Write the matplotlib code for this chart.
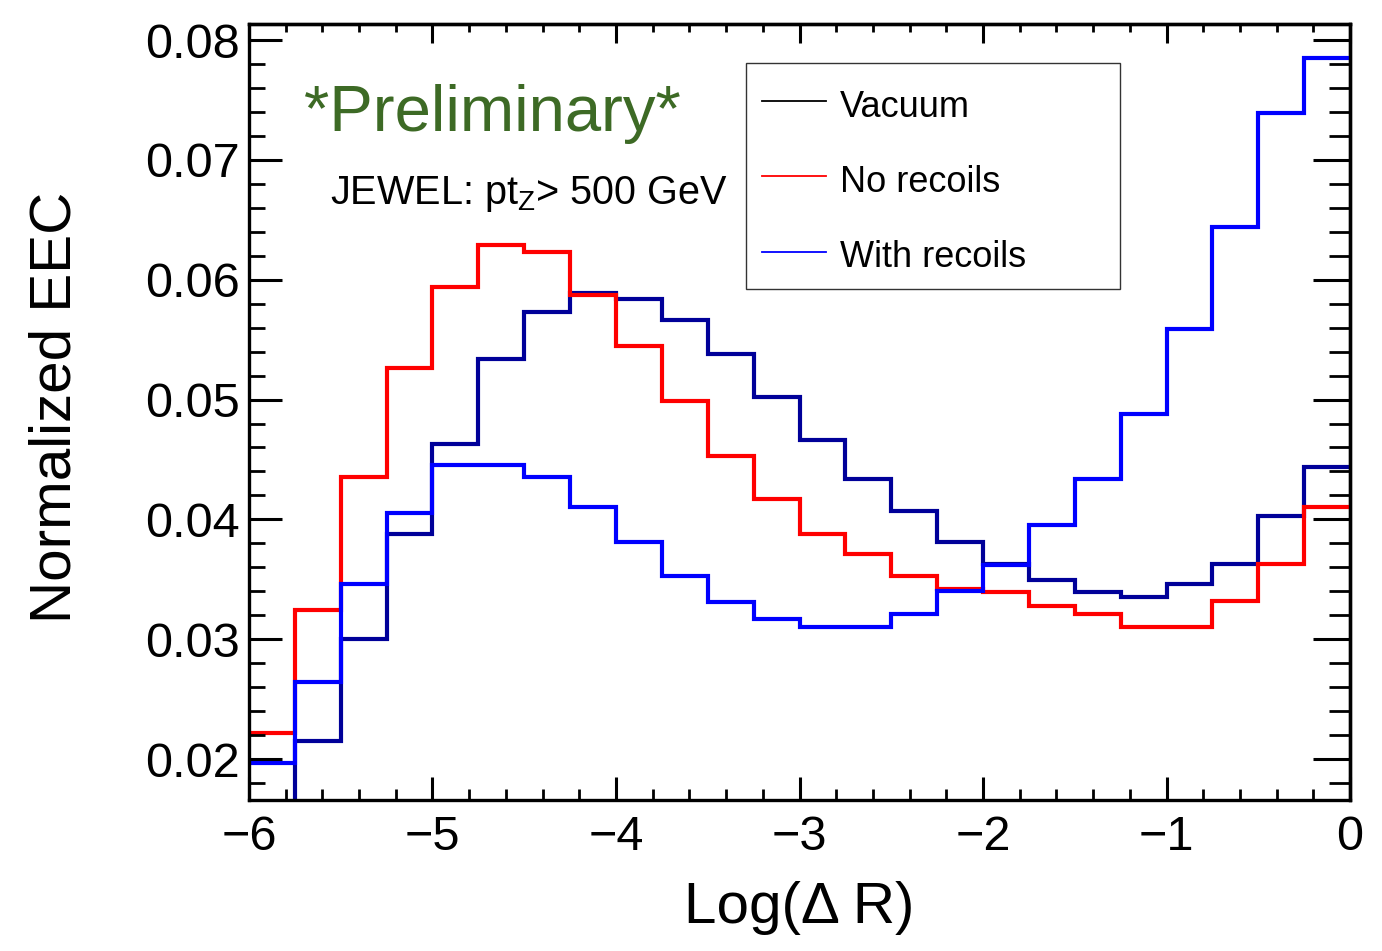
import numpy as np
import matplotlib
matplotlib.use("Agg")
import matplotlib.pyplot as plt
from matplotlib.ticker import MultipleLocator, FixedLocator
from matplotlib.patches import Rectangle
from matplotlib.lines import Line2D

plt.rcParams['font.family'] = ['Liberation Sans', 'DejaVu Sans']
plt.rcParams['mathtext.fontset'] = 'custom'
plt.rcParams['mathtext.rm'] = 'Liberation Sans'
plt.rcParams['mathtext.it'] = 'Liberation Sans:italic'
plt.rcParams['axes.unicode_minus'] = True

# Binning in Log(ΔR): 24 equal bins from -6 to 0
bin_edges = np.linspace(-6.0, 0.0, 25)

vacuum = [0.0160, 0.0215, 0.0300, 0.0388, 0.0463, 0.0534, 0.0573, 0.0589,
          0.0584, 0.0566, 0.0538, 0.0502, 0.0466, 0.0434, 0.0407, 0.0381,
          0.0363, 0.0349, 0.0339, 0.0335, 0.0346, 0.0363, 0.0403, 0.0444]

no_recoils = [0.0222, 0.0324, 0.0435, 0.0526, 0.0594, 0.0629, 0.0623, 0.0587,
              0.0545, 0.0499, 0.0453, 0.0417, 0.0388, 0.0371, 0.0353, 0.0342,
              0.0339, 0.0328, 0.0321, 0.0310, 0.0310, 0.0332, 0.0363, 0.0410]

with_recoils = [0.0197, 0.0264, 0.0346, 0.0405, 0.0445, 0.0445, 0.0435, 0.0410,
                0.0381, 0.0353, 0.0331, 0.0317, 0.0310, 0.0310, 0.0321, 0.0340,
                0.0362, 0.0395, 0.0434, 0.0488, 0.0559, 0.0644, 0.0739, 0.0785]

series_labels = ["Vacuum", "No recoils", "With recoils"]
series_colors = ["#000099", "#ff0000", "#0000ff"]
legend_colors = ["#000000", "#ff0000", "#0000ff"]

x_ticks = [-6, -5, -4, -3, -2, -1, 0]
y_ticks = [0.02, 0.03, 0.04, 0.05, 0.06, 0.07, 0.08]

fig = plt.figure(figsize=(13.82, 9.51), dpi=100)
ax = fig.add_axes([0.18017, 0.15878, 0.79668, 0.81598])

for vals, col in zip([vacuum, no_recoils, with_recoils], series_colors):
    ax.stairs(vals, bin_edges, baseline=None, color=col, linewidth=3.0)

ax.set_xlim(-6, 0)
ax.set_ylim(0.01658, 0.08134)

for s in ax.spines.values():
    s.set_linewidth(2.4)

ax.set_xticks(x_ticks)
ax.set_xticklabels([f"{t:d}".replace("-", "\u2212") for t in x_ticks])
ax.set_yticks(y_ticks)
ax.set_yticklabels([f"{t:.2f}" for t in y_ticks])
ax.xaxis.set_minor_locator(MultipleLocator(0.2))
ax.yaxis.set_minor_locator(MultipleLocator(0.002))

ax.tick_params(axis='x', which='major', direction='in', length=16.5, width=2.2,
               pad=10.5, labelsize=35)
ax.tick_params(axis='x', which='minor', direction='in', length=8, width=2.0)
ax.tick_params(axis='y', which='major', direction='in', length=24, width=2.2,
               pad=6.5, labelsize=35)
ax.tick_params(axis='y', which='minor', direction='in', length=11.5, width=2.0)

# Mirror ticks on top and right frame edges
top = ax.secondary_xaxis('top')
top.xaxis.set_major_locator(FixedLocator(x_ticks))
top.xaxis.set_minor_locator(MultipleLocator(0.2))
top.tick_params(which='major', direction='in', length=14, width=2.2, labeltop=False)
top.tick_params(which='minor', direction='in', length=5.5, width=2.0)
top.spines['top'].set_linewidth(2.4)

right = ax.secondary_yaxis('right')
right.yaxis.set_major_locator(FixedLocator(y_ticks))
right.yaxis.set_minor_locator(MultipleLocator(0.002))
right.tick_params(which='major', direction='in', length=27, width=2.2, labelright=False)
right.tick_params(which='minor', direction='in', length=15, width=2.0)
right.spines['right'].set_linewidth(2.4)

# Axis titles
fig.text(799 / 1382, 1 - 923 / 951, "Log(\u0394 R)", fontsize=42,
         ha='center', va='baseline')
fig.text(56 / 1382, 1 - 407 / 951, "Normalized EEC", fontsize=42,
         rotation=90, ha='center', va='center')

# Annotations
def ax_x(px):
    return (px - 249) / 1101.0

def ax_y(py):
    return (800 - py) / 776.0

ax.text(ax_x(304), ax_y(131), "*Preliminary*", fontsize=47, color="#3d6a25",
        ha='left', va='baseline', transform=ax.transAxes)
ax.text(ax_x(330), ax_y(204), r"JEWEL: pt$_{\mathrm{Z}}$> 500 GeV", fontsize=28.5,
        ha='left', va='baseline', transform=ax.transAxes)

# Legend box
box = Rectangle((ax_x(746), ax_y(289)), ax_x(1120) - ax_x(746),
                ax_y(63) - ax_y(289), transform=ax.transAxes,
                facecolor='white', edgecolor='#333333', linewidth=1.0, zorder=5)
ax.add_patch(box)
row_line_y = [101, 176, 252]
row_text_y = [117, 192, 267]
for lab, col, ly, ty in zip(series_labels, legend_colors, row_line_y, row_text_y):
    ax.add_line(Line2D([ax_x(762), ax_x(826)], [ax_y(ly), ax_y(ly)],
                       transform=ax.transAxes, color=col, linewidth=1.3, zorder=6))
    ax.text(ax_x(840), ax_y(ty), lab, fontsize=26, ha='left', va='baseline',
            transform=ax.transAxes, zorder=6)

fig.savefig("out.png", dpi=100, facecolor='white')
